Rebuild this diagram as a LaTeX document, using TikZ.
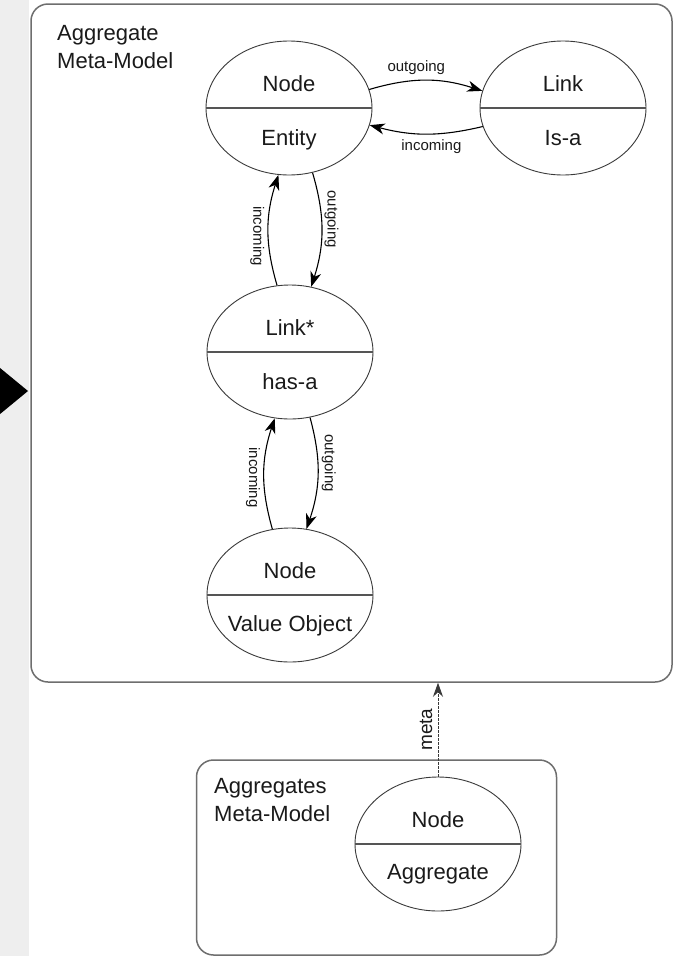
\documentclass[tikz,border=0pt]{standalone}
\usepackage{fontspec}
\setmainfont{Liberation Sans}
\usetikzlibrary{shapes.geometric,arrows.meta,calc}

\definecolor{stripgray}{HTML}{EEEEEE}
\definecolor{framegray}{HTML}{6E6E6E}
\definecolor{ellgray}{HTML}{3A3A3A}
\definecolor{divgray}{HTML}{555555}
\definecolor{txt}{HTML}{1A1A1A}

\begin{document}
\begin{tikzpicture}[x=1pt,y=-1pt,
  frame/.style={rectangle, draw=framegray, line width=1.5pt, rounded corners=17pt, inner sep=0pt},
  entity/.style={ellipse, draw=ellgray, line width=0.9pt, minimum width=166pt, minimum height=134pt, inner sep=0pt},
  divider/.style={draw=divgray, line width=1.2pt},
  lbl/.style={font=\fontsize{22}{27.5}\selectfont, text=txt, anchor=base, inner sep=0pt},
  title/.style={font=\fontsize{22}{27.5}\selectfont, text=txt, align=left, anchor=base west, inner sep=0pt},
  elabel/.style={font=\fontsize{15}{18}\selectfont, text=txt, inner sep=1pt},
  conn/.style={draw=black, line width=1.1pt, -{Stealth[length=15pt,width=11pt,inset=4.5pt]}},
  metaconn/.style={draw=ellgray, line width=0.9pt, dash pattern=on 2.5pt off 1.5pt, -{Stealth[length=14pt,width=10pt,inset=4.5pt]}}
]
\useasboundingbox (0,0) rectangle (674,956);
\fill[white] (0,0) rectangle (674,956);
\fill[stripgray] (0,0) rectangle (28.5,956);
\fill[black] (-6,363) -- (28,391) -- (-6,419) -- cycle;

% containers
\node[frame, minimum width=641pt, minimum height=678pt] (outer) at (351.5,343) {};
\node[frame, minimum width=360pt, minimum height=195pt] (inner) at (376.5,857.5) {};
% the base anchor of a two-line node sits on its last line
\node[title] (outerTitle) at (57,68) {Aggregate\\Meta-Model};
\node[title] (innerTitle) at (214,821) {Aggregates\\Meta-Model};

% split ellipses
\node[entity] (ent) at (289,108) {};
\node[entity] (lnk) at (563,108) {};
\node[entity] (lst) at (290,352) {};
\node[entity] (vo)  at (290,595) {};
\node[entity] (agg) at (438,844) {};
\foreach \e in {ent,lnk,lst,vo,agg}
  \draw[divider] (\e.west) -- (\e.east);

\node[lbl] (entA) at ([yshift=17pt]ent.center) {Node};
\node[lbl] (entB) at ([yshift=-37pt]ent.center) {Entity};
\node[lbl] (lnkA) at ([yshift=17pt]lnk.center) {Link};
\node[lbl] (lnkB) at ([yshift=-37pt]lnk.center) {Is-a};
\node[lbl] (lstA) at ([yshift=17pt]lst.center) {Link*};
\node[lbl] (lstB) at ([yshift=-37pt]lst.center) {has-a};
\node[lbl] (voA)  at ([yshift=17pt]vo.center) {Node};
\node[lbl] (voB)  at ([yshift=-36pt]vo.center) {Value Object};
\node[lbl] (aggA) at ([yshift=17pt]agg.center) {Node};
\node[lbl] (aggB) at ([yshift=-35pt]agg.center) {Aggregate};

% relations
\draw[conn] (ent.13) to[bend left=17]
  node[elabel, above=4pt, pos=0.41] (o1) {outgoing} (lnk.168);
\draw[conn] (lnk.193) to[bend left=14]
  node[elabel, below=4pt, pos=0.45] (i1) {incoming} (ent.348);
\draw[conn] (lst.101) to[bend left=17]
  node[elabel, pos=0.44, xshift=-11pt, rotate=-90] (i2) {incoming} (ent.261);
\draw[conn] (ent.290) to[bend left=17]
  node[elabel, pos=0.40, xshift=10pt, rotate=-90] (o2) {outgoing} (lst.72);
\draw[conn] (vo.105) to[bend left=17]
  node[elabel, pos=0.46, xshift=-11pt, rotate=-90] (i3) {incoming} (lst.257);
\draw[conn] (lst.287) to[bend left=17]
  node[elabel, pos=0.40, xshift=11pt, rotate=-90] (o3) {outgoing} (vo.76);

\draw[metaconn] (agg.north) -- (agg.north |- outer.south)
  node[elabel, font=\fontsize{19}{22}\selectfont, midway, xshift=-12pt, rotate=90] (m1) {meta};
\end{tikzpicture}
\end{document}
